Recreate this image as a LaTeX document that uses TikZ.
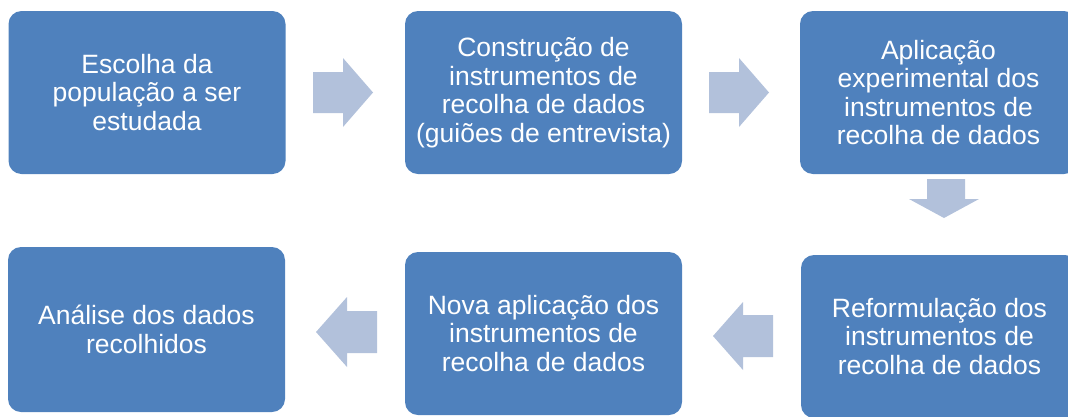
\documentclass[tikz,border=0pt]{standalone}
\usepackage{fontspec}
\setmainfont{Liberation Sans}
\definecolor{boxblue}{HTML}{4F81BD}
\definecolor{arrowblue}{HTML}{B2C1DB}
\begin{document}
\begin{tikzpicture}[x=1pt,y=-1pt,
  stepbox/.style={fill=boxblue, draw=none, rounded corners=13pt, text=white,
    align=center, inner sep=0pt, minimum width=277pt,
    font=\fontsize{26.5}{28.5}\selectfont},
  blockarrow/.style={fill=arrowblue, draw=none}]
\useasboundingbox (0,0) rectangle (1068,416);
\clip (0,0) rectangle (1068,416);
\node[stepbox, minimum height=163pt] (b1) at (147,92.5) {Escolha da\\população a ser\\estudada};
\node[stepbox, minimum height=163pt] (b2) at (543.5,92.5) {Construção de\\instrumentos de\\recolha de dados\\(guiões de entrevista)};
\node[stepbox, minimum height=163pt] (b3) at (938.5,92.5) {Aplicação\\experimental dos\\instrumentos de\\recolha de dados};
\node[stepbox, minimum height=163pt] (b4) at (939.5,336.5) {Reformulação dos\\instrumentos de\\recolha de dados};
\node[stepbox, minimum height=163pt] (b5) at (543.5,333.5) {Nova aplicação dos\\instrumentos de\\recolha de dados};
\node[stepbox, minimum height=165pt] (b6) at (146.5,329.5) {Análise dos dados\\recolhidos};
% block arrows
\fill[blockarrow] (313,72) -- (343,72) -- (343,58) -- (373,92.5) -- (343,127) -- (343,113) -- (313,113) -- cycle;
\fill[blockarrow] (709,72) -- (739,72) -- (739,58) -- (769,92.5) -- (739,127) -- (739,113) -- (709,113) -- cycle;
\fill[blockarrow] (927,179) -- (965,179) -- (965,199) -- (979,199) -- (944,218) -- (909,199) -- (927,199) -- cycle;
\fill[blockarrow] (773,315) -- (743,315) -- (743,302) -- (713,336) -- (743,370) -- (743,357) -- (773,357) -- cycle;
\fill[blockarrow] (377,311) -- (347,311) -- (347,297) -- (316,332) -- (347,367) -- (347,353) -- (377,353) -- cycle;
\end{tikzpicture}
\end{document}
